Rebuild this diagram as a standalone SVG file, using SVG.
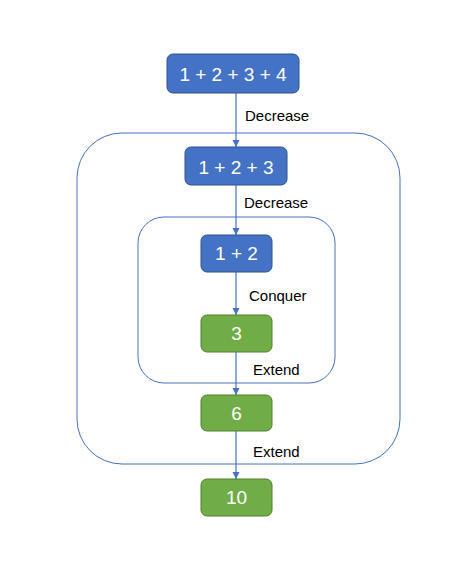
<svg xmlns="http://www.w3.org/2000/svg" width="474" height="575" viewBox="0 0 474 575">
<style>
.blue{fill:#4472C4;stroke:#2F528F;stroke-width:1}
.green{fill:#70AD47;stroke:#507E32;stroke-width:1}
.nt{font-family:"Liberation Sans",Arial,sans-serif;font-size:19px;fill:#ffffff;text-anchor:middle}
.lb{font-family:"Liberation Sans",Arial,sans-serif;font-size:15px;fill:#000000}
.frame{fill:none;stroke:#4472C4;stroke-width:1}
.conn{stroke:#4472C4;stroke-width:1.2;fill:none;marker-end:url(#ah)}
</style>
<defs>
<marker id="ah" markerWidth="8" markerHeight="8" refX="7" refY="4" orient="auto" markerUnits="userSpaceOnUse">
<path d="M0,0.5 L7,4 L0,7.5 Z" fill="#4472C4"/>
</marker>
</defs>
<rect width="474" height="575" fill="#ffffff"/>
<g id="frames">
<rect id="outer" class="frame" x="77" y="133" width="323" height="331" rx="45" ry="45"/>
<rect id="inner" class="frame" x="138" y="217" width="197" height="166" rx="26" ry="26"/>
</g>
<g id="connectors">
<line class="conn" x1="236" y1="93" x2="236" y2="147"/>
<line class="conn" x1="236" y1="185" x2="236" y2="235"/>
<line class="conn" x1="236" y1="272" x2="236" y2="315"/>
<line class="conn" x1="236" y1="352" x2="236" y2="395"/>
<line class="conn" x1="236" y1="431" x2="236" y2="479"/>
</g>
<g id="labels">
<text class="lb" x="245" y="121">Decrease</text>
<text class="lb" x="244" y="208">Decrease</text>
<text class="lb" x="249" y="301">Conquer</text>
<text class="lb" x="253" y="375">Extend</text>
<text class="lb" x="253" y="457">Extend</text>
</g>
<g id="n1"><rect class="blue" x="167" y="54" width="132" height="39" rx="6"/><text class="nt" x="233" y="81">1 + 2 + 3 + 4</text></g>
<g id="n2"><rect class="blue" x="185" y="147" width="102" height="38" rx="6"/><text class="nt" x="236" y="174">1 + 2 + 3</text></g>
<g id="n3"><rect class="blue" x="201" y="235" width="71" height="37" rx="6"/><text class="nt" x="236.5" y="260">1 + 2</text></g>
<g id="n4"><rect class="green" x="201" y="315" width="71" height="37" rx="6"/><text class="nt" x="236.5" y="340">3</text></g>
<g id="n5"><rect class="green" x="201" y="395" width="71" height="36" rx="6"/><text class="nt" x="236.5" y="420">6</text></g>
<g id="n6"><rect class="green" x="201" y="479" width="71" height="37" rx="6"/><text class="nt" x="236.5" y="504">10</text></g>
</svg>
